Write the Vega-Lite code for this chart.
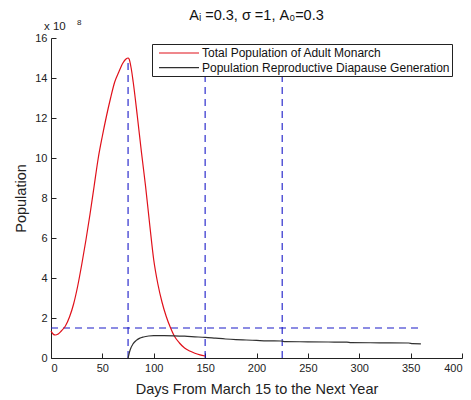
{
  "$schema": "https://vega.github.io/schema/vega-lite/v6.json",
  "width": 411,
  "height": 320,
  "autosize": "none",
  "padding": {"left": 51, "top": 38, "right": 9, "bottom": 42},
  "background": "white",
  "title": {"text": "Aᵢ =0.3, σ =1, A₀=0.3", "fontSize": 14.5, "fontWeight": "normal", "font": "Liberation Sans", "color": "#111", "offset": -4, "frame": "group"},
  "config": {
    "view": {"stroke": null},
    "font": "Liberation Sans",
    "axis": {"domainColor": "#222", "tickColor": "#222", "grid": false, "labelFont": "Liberation Sans", "labelFontSize": 11, "labelColor": "#222", "titleFont": "Liberation Sans", "titleFontSize": 14.5, "titleFontWeight": "normal", "titleColor": "#222", "tickSize": -5, "labelOverlap": false}
  },
  "datasets": {
    "curves": [
      {"series": "Total Population of Adult Monarch", "day": 0, "pop": 1.35},
      {"series": "Total Population of Adult Monarch", "day": 2, "pop": 1.2},
      {"series": "Total Population of Adult Monarch", "day": 4, "pop": 1.15},
      {"series": "Total Population of Adult Monarch", "day": 7, "pop": 1.2},
      {"series": "Total Population of Adult Monarch", "day": 10, "pop": 1.35},
      {"series": "Total Population of Adult Monarch", "day": 14, "pop": 1.6},
      {"series": "Total Population of Adult Monarch", "day": 18, "pop": 2.05},
      {"series": "Total Population of Adult Monarch", "day": 22, "pop": 2.7},
      {"series": "Total Population of Adult Monarch", "day": 26, "pop": 3.6},
      {"series": "Total Population of Adult Monarch", "day": 30, "pop": 4.7},
      {"series": "Total Population of Adult Monarch", "day": 34, "pop": 5.9},
      {"series": "Total Population of Adult Monarch", "day": 38, "pop": 7.2},
      {"series": "Total Population of Adult Monarch", "day": 42, "pop": 8.6},
      {"series": "Total Population of Adult Monarch", "day": 46, "pop": 10.0},
      {"series": "Total Population of Adult Monarch", "day": 50, "pop": 11.1},
      {"series": "Total Population of Adult Monarch", "day": 54, "pop": 12.1},
      {"series": "Total Population of Adult Monarch", "day": 58, "pop": 13.0},
      {"series": "Total Population of Adult Monarch", "day": 62, "pop": 13.8},
      {"series": "Total Population of Adult Monarch", "day": 66, "pop": 14.3},
      {"series": "Total Population of Adult Monarch", "day": 70, "pop": 14.75},
      {"series": "Total Population of Adult Monarch", "day": 73, "pop": 14.95},
      {"series": "Total Population of Adult Monarch", "day": 75, "pop": 15.0},
      {"series": "Total Population of Adult Monarch", "day": 76, "pop": 14.95},
      {"series": "Total Population of Adult Monarch", "day": 78, "pop": 14.5},
      {"series": "Total Population of Adult Monarch", "day": 80, "pop": 13.8},
      {"series": "Total Population of Adult Monarch", "day": 84, "pop": 12.1},
      {"series": "Total Population of Adult Monarch", "day": 88, "pop": 10.3},
      {"series": "Total Population of Adult Monarch", "day": 92, "pop": 8.6},
      {"series": "Total Population of Adult Monarch", "day": 96, "pop": 6.7},
      {"series": "Total Population of Adult Monarch", "day": 100, "pop": 4.9},
      {"series": "Total Population of Adult Monarch", "day": 104, "pop": 3.7},
      {"series": "Total Population of Adult Monarch", "day": 108, "pop": 2.8},
      {"series": "Total Population of Adult Monarch", "day": 112, "pop": 2.1},
      {"series": "Total Population of Adult Monarch", "day": 116, "pop": 1.55},
      {"series": "Total Population of Adult Monarch", "day": 120, "pop": 1.1},
      {"series": "Total Population of Adult Monarch", "day": 125, "pop": 0.75},
      {"series": "Total Population of Adult Monarch", "day": 130, "pop": 0.5},
      {"series": "Total Population of Adult Monarch", "day": 135, "pop": 0.35},
      {"series": "Total Population of Adult Monarch", "day": 140, "pop": 0.24},
      {"series": "Total Population of Adult Monarch", "day": 145, "pop": 0.16},
      {"series": "Total Population of Adult Monarch", "day": 150, "pop": 0.1},
      {"series": "Population Reproductive Diapause Generation", "day": 75, "pop": 0},
      {"series": "Population Reproductive Diapause Generation", "day": 77, "pop": 0.4},
      {"series": "Population Reproductive Diapause Generation", "day": 80, "pop": 0.72},
      {"series": "Population Reproductive Diapause Generation", "day": 83, "pop": 0.88},
      {"series": "Population Reproductive Diapause Generation", "day": 86, "pop": 0.98},
      {"series": "Population Reproductive Diapause Generation", "day": 90, "pop": 1.05},
      {"series": "Population Reproductive Diapause Generation", "day": 95, "pop": 1.1},
      {"series": "Population Reproductive Diapause Generation", "day": 100, "pop": 1.12},
      {"series": "Population Reproductive Diapause Generation", "day": 110, "pop": 1.12},
      {"series": "Population Reproductive Diapause Generation", "day": 120, "pop": 1.11},
      {"series": "Population Reproductive Diapause Generation", "day": 130, "pop": 1.09},
      {"series": "Population Reproductive Diapause Generation", "day": 140, "pop": 1.06},
      {"series": "Population Reproductive Diapause Generation", "day": 150, "pop": 1.03},
      {"series": "Population Reproductive Diapause Generation", "day": 160, "pop": 0.99},
      {"series": "Population Reproductive Diapause Generation", "day": 170, "pop": 0.95},
      {"series": "Population Reproductive Diapause Generation", "day": 180, "pop": 0.92},
      {"series": "Population Reproductive Diapause Generation", "day": 190, "pop": 0.9},
      {"series": "Population Reproductive Diapause Generation", "day": 200, "pop": 0.88},
      {"series": "Population Reproductive Diapause Generation", "day": 210, "pop": 0.86},
      {"series": "Population Reproductive Diapause Generation", "day": 224, "pop": 0.85},
      {"series": "Population Reproductive Diapause Generation", "day": 228, "pop": 0.82},
      {"series": "Population Reproductive Diapause Generation", "day": 250, "pop": 0.81},
      {"series": "Population Reproductive Diapause Generation", "day": 270, "pop": 0.8},
      {"series": "Population Reproductive Diapause Generation", "day": 288, "pop": 0.79},
      {"series": "Population Reproductive Diapause Generation", "day": 292, "pop": 0.77},
      {"series": "Population Reproductive Diapause Generation", "day": 320, "pop": 0.76},
      {"series": "Population Reproductive Diapause Generation", "day": 348, "pop": 0.75},
      {"series": "Population Reproductive Diapause Generation", "day": 352, "pop": 0.72},
      {"series": "Population Reproductive Diapause Generation", "day": 360, "pop": 0.71}
    ],
    "vlines": [
      {"day": 75, "low": 0, "high": 15},
      {"day": 150, "low": 0, "high": 15},
      {"day": 225, "low": 0, "high": 15}
    ],
    "hline": [
      {"start": 0, "end": 360, "level": 1.5}
    ],
    "exp": [
      {"day": 0, "pop": 16, "base": "x 10", "power": "8"}
    ]
  },
  "layer": [
    {
      "data": {"name": "vlines"},
      "mark": {"type": "rule", "color": "#1a1ac8", "strokeDash": [7, 5], "strokeWidth": 1.1},
      "encoding": {
        "x": {"field": "day", "type": "quantitative", "scale": {"domain": [0, 400], "nice": false}, "axis": {"values": [0, 50, 100, 150, 200, 250, 300, 350, 400], "labelOverlap": false, "title": "Days From March 15 to the Next Year", "titlePadding": 9, "labelPadding": 9}},
        "y": {"field": "low", "type": "quantitative", "scale": {"domain": [0, 16], "nice": false}, "axis": {"values": [0, 2, 4, 6, 8, 10, 12, 14, 16], "tickCount": 9, "labelOverlap": false, "title": "Population", "titlePadding": 6, "labelPadding": 9}},
        "y2": {"field": "high"}
      }
    },
    {
      "data": {"name": "hline"},
      "mark": {"type": "rule", "color": "#1a1ac8", "strokeDash": [7, 5], "strokeWidth": 1.1},
      "encoding": {
        "x": {"field": "start", "type": "quantitative"},
        "x2": {"field": "end"},
        "y": {"field": "level", "type": "quantitative"}
      }
    },
    {
      "data": {"name": "curves"},
      "mark": {"type": "line", "strokeWidth": 1.2, "interpolate": "monotone"},
      "encoding": {
        "x": {"field": "day", "type": "quantitative"},
        "y": {"field": "pop", "type": "quantitative"},
        "color": {
          "field": "series", "type": "nominal",
          "scale": {"domain": ["Total Population of Adult Monarch", "Population Reproductive Diapause Generation"], "range": ["#e0101a", "#303030"]},
          "legend": {"title": null, "orient": "none", "legendX": 101, "legendY": 6, "symbolType": "M-1,0H5.6667", "symbolSize": 144, "symbolStrokeWidth": 1.2, "symbolOffset": 4, "labelFontSize": 12, "labelFont": "Liberation Sans", "labelColor": "#111", "strokeColor": "#222", "fillColor": "white", "padding": 2, "rowPadding": 1.7, "labelOffset": 30, "labelLimit": 400}
        }
      }
    },
    {
      "data": {"name": "exp"},
      "mark": {"type": "text", "align": "left", "baseline": "alphabetic", "dx": -7, "dy": -8, "fontSize": 11.5, "color": "#222"},
      "encoding": {
        "x": {"field": "day", "type": "quantitative"},
        "y": {"field": "pop", "type": "quantitative"},
        "text": {"field": "base"}
      }
    },
    {
      "data": {"name": "exp"},
      "mark": {"type": "text", "align": "left", "baseline": "alphabetic", "dx": 26, "dy": -13, "fontSize": 8, "color": "#222"},
      "encoding": {
        "x": {"field": "day", "type": "quantitative"},
        "y": {"field": "pop", "type": "quantitative"},
        "text": {"field": "power"}
      }
    }
  ]
}
